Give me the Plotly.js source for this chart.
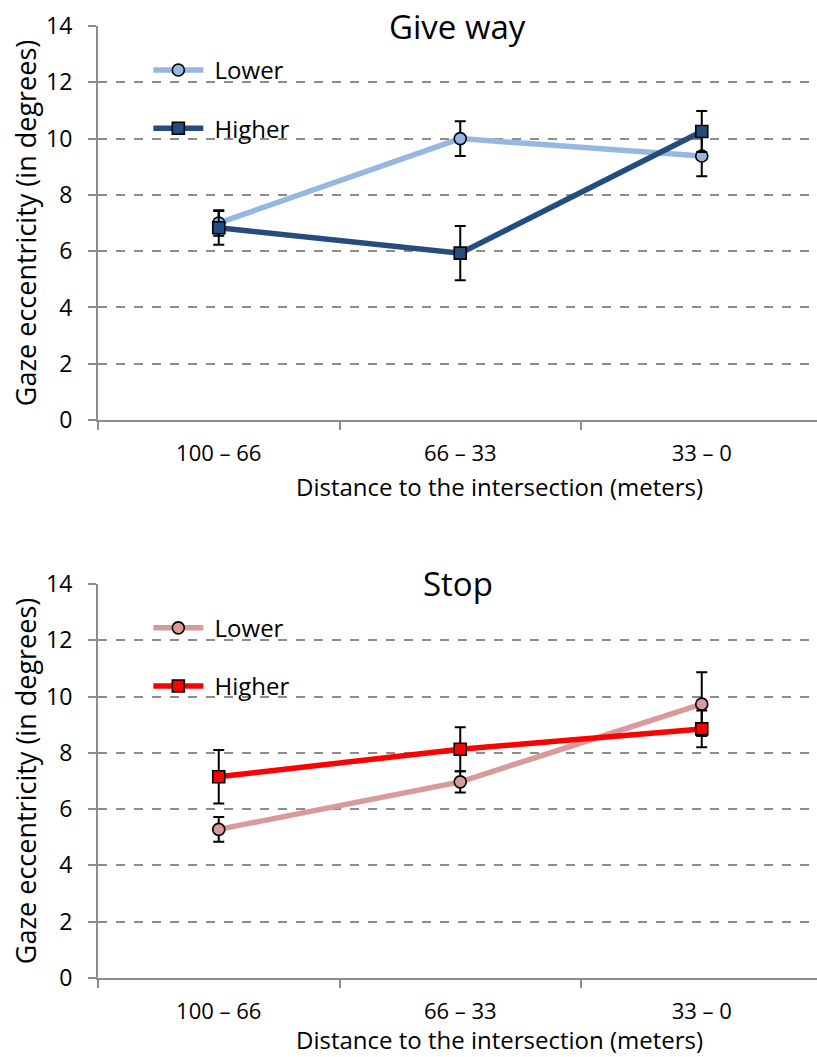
<!DOCTYPE html>
<html><head><meta charset="utf-8">
<script src="https://cdn.plot.ly/plotly-3.0.1.min.js"></script>
<style>html,body{margin:0;padding:0;background:#fff}</style>
</head><body><div id="chart" style="width:817px;height:1057px"></div>
<script>
const categories = ["100 – 66", "66 – 33", "33 – 0"];
const giveLower = [7.0, 10.0, 9.38];
const giveLowerErr = [0.45, 0.62, 0.72];
const giveHigher = [6.83, 5.93, 10.25];
const giveHigherErr = [0.6, 0.96, 0.73];
const stopLower = [5.28, 6.97, 9.73];
const stopLowerErr = [0.44, 0.38, 1.13];
const stopHigher = [7.15, 8.13, 8.85];
const stopHigherErr = [0.95, 0.78, 0.65];
const yTicks = [0, 2, 4, 6, 8, 10, 12, 14];
const xTitle = "Distance to the intersection (meters)";
const yTitle = "Gaze eccentricity (in degrees)";

const FONT = "Open Sans, Liberation Sans, sans-serif";
const NB = "\u00a0";
function tr(y, err, name, color, sym, xa, ya, leg, grp) {
  return {
    x: categories, y: y, name: NB + name, type: "scatter", mode: "lines+markers",
    xaxis: xa, yaxis: ya, legend: leg, legendgroup: grp,
    line: {color: color, width: 5.5},
    marker: {symbol: sym, size: 12, color: color, line: {color: "#000", width: 1.6}},
    error_y: {type: "data", array: err, visible: true, color: "#000", thickness: 2, width: 5.5}
  };
}
const data = [
  tr(giveLower, giveLowerErr, "Lower", "#95B7E0", "circle", "x", "y", "legend", "a"),
  tr(giveHigher, giveHigherErr, "Higher", "#244C7E", "square", "x", "y", "legend", "b"),
  tr(stopLower, stopLowerErr, "Lower", "#D99A9A", "circle", "x2", "y2", "legend2", "c"),
  tr(stopHigher, stopHigherErr, "Higher", "#FF0000", "square", "x2", "y2", "legend2", "d"),
  {x: [], y: [], xaxis: "x", yaxis: "y3", showlegend: false, type: "scatter"},
  {x: [], y: [], xaxis: "x2", yaxis: "y4", showlegend: false, type: "scatter"}
];
const xr = [-0.5, -0.5 + 719 / 241.5];
function xax(anchor) {
  return {
    type: "category", range: xr, anchor: anchor, showline: true, linecolor: "#8c8c8c", linewidth: 2,
    ticks: "outside", tickson: "boundaries", ticklen: 8, tickcolor: "#8c8c8c", tickwidth: 2,
    showgrid: false, tickfont: {family: FONT, size: 22, color: "#000"}, ticklabelstandoff: 13
  };
}
function yax(anchor, dom) {
  return {
    domain: dom, anchor: anchor, range: [0, 14], tickvals: yTicks, showline: true, linecolor: "#8c8c8c", linewidth: 2,
    ticks: "outside", ticklen: 8, tickcolor: "#8c8c8c", tickwidth: 2, zeroline: false,
    showgrid: true, gridcolor: "#8c8c8c", gridwidth: 2, griddash: "dash",
    tickfont: {family: FONT, size: 23, color: "#000"}, ticklabelstandoff: 11,
    title: {text: yTitle, font: {family: FONT, size: 27, color: "#000"}, standoff: 2}
  };
}
function yin(ov) {
  return {overlaying: ov, range: [0, 14], tickvals: yTicks, ticks: "inside", ticklen: 9, tickcolor: "#8c8c8c",
    tickwidth: 2, showticklabels: false, showgrid: false, zeroline: false, showline: false};
}
const legBase = {font: {family: FONT, size: 24, color: "#000"}, bgcolor: "rgba(0,0,0,0)", traceorder: "grouped",
  tracegroupgap: 24, itemwidth: 50, xanchor: "left", yanchor: "top"};
function xt(y) {
  return {text: xTitle, xref: "paper", yref: "paper", x: 0.559, y: y, yanchor: "middle", showarrow: false,
    font: {family: FONT, size: 24, color: "#000"}};
}
const layout = {
  width: 817, height: 1057, margin: {l: 98, r: 0, t: 26, b: 79},
  paper_bgcolor: "#fff", plot_bgcolor: "#fff",
  xaxis: xax("y"), yaxis: yax("x", [0.5861, 1]),
  xaxis2: xax("y2"), yaxis2: yax("x2", [0, 0.4139]),
  yaxis3: yin("y"), yaxis4: yin("y2"),
  legend: Object.assign({x: 0.07, y: 0.977, yref: "paper"}, legBase),
  legend2: Object.assign({x: 0.07, y: 0.391, yref: "paper"}, legBase),
  annotations: [
    {text: "Give way", xref: "paper", yref: "paper", x: 0.5, y: 1.0, yanchor: "middle", showarrow: false,
     font: {family: FONT, size: 33, color: "#000"}, bgcolor: "#fff"},
    {text: "Stop", xref: "paper", yref: "paper", x: 0.5, y: 0.4139, yanchor: "middle", showarrow: false,
     font: {family: FONT, size: 33, color: "#000"}, bgcolor: "#fff"},
    xt(0.5168), xt(-0.0651)
  ]
};
Plotly.newPlot("chart", data, layout, {staticPlot: true});
</script></body></html>
